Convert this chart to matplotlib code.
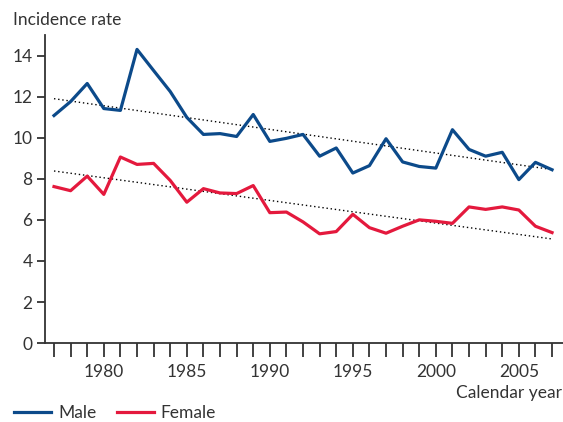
import numpy as np
import matplotlib.pyplot as plt

# dados
anos = list(range(1977, 2008))
masculino = [11.08, 11.76, 12.64, 11.42, 11.33, 14.30, 13.27, 12.25, 10.99, 10.16,
             10.20, 10.06, 11.13, 9.82, 9.97, 10.16, 9.10, 9.50, 8.28, 8.64,
             9.95, 8.82, 8.60, 8.52, 10.39, 9.43, 9.10, 9.29, 7.96, 8.80, 8.44]
feminino = [7.62, 7.42, 8.13, 7.24, 9.06, 8.70, 8.75, 7.92, 6.86, 7.52,
            7.31, 7.28, 7.67, 6.35, 6.38, 5.90, 5.32, 5.43, 6.27, 5.62,
            5.35, 5.69, 6.00, 5.93, 5.83, 6.63, 6.51, 6.63, 6.48, 5.69, 5.38]
# linhas de tendência (extremos)
anos_tendencia = [1977, 2007]
tendencia_masc = [11.90, 8.45]
tendencia_fem = [8.38, 5.07]
anos_rotulo = [1980, 1985, 1990, 1995, 2000, 2005]
y_ticks = [0, 2, 4, 6, 8, 10, 12, 14]

azul = "#0c4a8a"
vermelho = "#e4193d"
cinza = "#333333"

plt.rcParams['font.family'] = ['Lato', 'DejaVu Sans']
fs = 12.5

fig = plt.figure(figsize=(5.63, 4.22), dpi=100)
ax = fig.add_axes([0.08, 0.187, 0.92, 0.73])

# tendências pontilhadas
ax.plot(anos_tendencia, tendencia_masc, linestyle=(0, (1, 2)), color="black", lw=1.0, zorder=1)
ax.plot(anos_tendencia, tendencia_fem, linestyle=(0, (1, 2)), color="black", lw=1.0, zorder=1)

ax.plot(anos, masculino, color=azul, lw=2.3, label="Male", zorder=3)
ax.plot(anos, feminino, color=vermelho, lw=2.3, label="Female", zorder=3)

ax.set_xlim(1976.46, 2007.66)
ax.set_ylim(0, 15)
ax.set_yticks(y_ticks)
ax.set_xticks(anos, minor=True)
ax.set_xticks(anos_rotulo)

for lado in ("top", "right"):
    ax.spines[lado].set_visible(False)
for lado in ("left", "bottom"):
    ax.spines[lado].set_color(cinza)
    ax.spines[lado].set_linewidth(1.3)

ax.tick_params(axis="y", direction="out", length=6, width=1.3, color=cinza,
               labelsize=fs, labelcolor=cinza, pad=3)
ax.tick_params(axis="x", which="both", direction="out", length=10, width=1.3,
               color=cinza, labelsize=fs, labelcolor=cinza, pad=5)

# títulos dos eixos
fig.text(0.023, 0.952, "Incidence rate", fontsize=fs, color=cinza, va="center")
fig.text(0.998, 0.069, "Calendar year", fontsize=fs, color=cinza, va="center", ha="right")

# legenda
fig.legend(loc="center left", bbox_to_anchor=(0.025, 0.021), ncol=2, frameon=False,
           fontsize=fs, handlelength=2.15, handletextpad=0.4, columnspacing=1.15,
           borderpad=0.0, borderaxespad=0.0, labelcolor=cinza)
for linha in fig.legends[0].get_lines():
    linha.set_linewidth(2.3)

fig.savefig("out.png", dpi=100)
